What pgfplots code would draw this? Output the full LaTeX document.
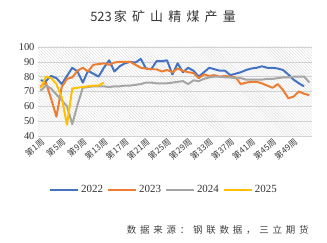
\documentclass[border=0pt]{standalone}
\usepackage{pgfplots}
\pgfplotsset{compat=1.18}
\usepackage{fontspec}
\setmainfont{Liberation Serif}
\newfontfamily\cjk{Noto Sans CJK SC}
\newfontfamily\cjktitle[LetterSpace=40]{Noto Sans CJK SC}
\newfontfamily\cjksrc[LetterSpace=40]{Noto Sans CJK SC}
\usetikzlibrary{patterns}
\definecolor{c22}{HTML}{4472C4}
\definecolor{c23}{HTML}{ED7D31}
\definecolor{c24}{HTML}{A5A5A5}
\definecolor{c25}{HTML}{FFC000}
\newcommand{\wk}[1]{{\cjk 第#1周}}
\begin{document}
\begin{tikzpicture}
\path[use as bounding box] (0,0) rectangle (327bp,-243bp);
\node[font=\fontsize{13}{14}\selectfont, text=black!80] at (163bp,-17bp) {{\cjk 523}\,{\cjktitle 家矿山精煤产量}};
\begin{axis}[
  anchor=south west, at={(38bp,-136bp)},
  scale only axis, width=274bp, height=89bp,
  xmin=0.5, xmax=52.5, ymin=40, ymax=100,
  ytick={40,50,...,100},
  xtick={1,5,...,49},
  xticklabels={\wk{1},\wk{5},\wk{9},\wk{13},\wk{17},\wk{21},\wk{25},\wk{29},\wk{33},\wk{37},\wk{41},\wk{45},\wk{49}},
  x tick label style={rotate=40, anchor=north east, font=\fontsize{8.5}{9}\selectfont, text=black!75, inner sep=1pt},
  y tick label style={font=\fontsize{10.5}{12}\selectfont, text=black!80},
  /pgf/number format/assume math mode=true,
  major tick length=0pt,
  axis line style={draw=none},
  ymajorgrids, grid style={draw=gray!35, line width=0.6pt},
  axis background/.style={pattern=north west lines, pattern color=gray!28},
  legend style={at={(0.46,-0.607)}, anchor=center, draw=none, fill=none, legend columns=4, font=\fontsize{11}{12}\selectfont, text=black!80, /tikz/every even column/.append style={column sep=2pt}},
  legend image code/.code={\draw[#1, line width=2pt] (0bp,0bp) -- (28bp,0bp);},
  every axis plot/.append style={line width=2pt, mark=none, line join=round},
]
\addplot[c22] coordinates {(1,77.5)(2,77)(3,80.5)(4,79)(5,75)(6,80.5)(7,86)(8,83.5)(9,76)(10,84)(11,82)(12,80)(13,86)(14,91)(15,83.5)(16,87)(17,89)(18,90)(19,89.5)(20,92)(21,85.5)(22,85)(23,90.5)(24,90.5)(25,91)(26,81.5)(27,89)(28,83)(29,86)(30,84)(31,80)(32,83)(33,86)(34,85)(35,84)(36,84)(37,81)(38,82)(39,83)(40,84.5)(41,85.5)(42,86)(43,87)(44,86)(45,86)(46,85.5)(47,84.5)(48,81.5)(49,78)(50,75.5)(51,73.5)};
\addlegendentry{2022}
\addplot[c23] coordinates {(1,73.5)(2,76)(3,65)(4,53)(5,73)(6,78.5)(7,79.5)(8,84)(9,86)(10,83.5)(11,88)(12,88.5)(13,89)(14,88)(15,89.5)(16,90)(17,90)(18,90)(19,88)(20,86)(21,85.5)(22,85)(23,85)(24,83.5)(25,84.5)(26,83)(27,85.5)(28,84)(29,83)(30,82.5)(31,79)(32,81.5)(33,80.5)(34,81)(35,80)(36,80.5)(37,80)(38,79.5)(39,75)(40,76)(41,76.5)(42,76.5)(43,75.5)(44,74)(45,72.5)(46,75)(47,71)(48,65.5)(49,66.5)(50,70)(51,68.5)(52,67.5)};
\addlegendentry{2023}
\addplot[c24] coordinates {(1,70.5)(2,74)(3,72)(4,68)(5,64)(6,60)(7,48)(8,61)(9,72.5)(10,73)(11,73.5)(12,73.5)(13,73.5)(14,73)(15,73.5)(16,73.5)(17,74)(18,74)(19,74.5)(20,75)(21,76)(22,76)(23,75.5)(24,75.5)(25,75.5)(26,76)(27,76.5)(28,77)(29,75)(30,77.5)(31,77)(32,78.5)(33,79.5)(34,80)(35,80)(36,79.5)(37,79.5)(38,79)(39,79)(40,78)(41,78)(42,78)(43,78)(44,78.5)(45,78.5)(46,79)(47,79.5)(48,79.5)(49,80)(50,80)(51,80)(52,76)};
\addlegendentry{2024}
\addplot[c25] coordinates {(1,72)(2,80)(3,79)(4,75)(5,66)(6,47.5)(7,72)(8,72.5)(9,73)(10,73.5)(11,74)(12,74)(13,76)};
\addlegendentry{2025}
\end{axis}
\node[anchor=east, font=\fontsize{9.5}{11}\selectfont, text=black!75] at (312bp,-230bp) {\cjksrc 数据来源：钢联数据，三立期货};
\end{tikzpicture}
\end{document}
